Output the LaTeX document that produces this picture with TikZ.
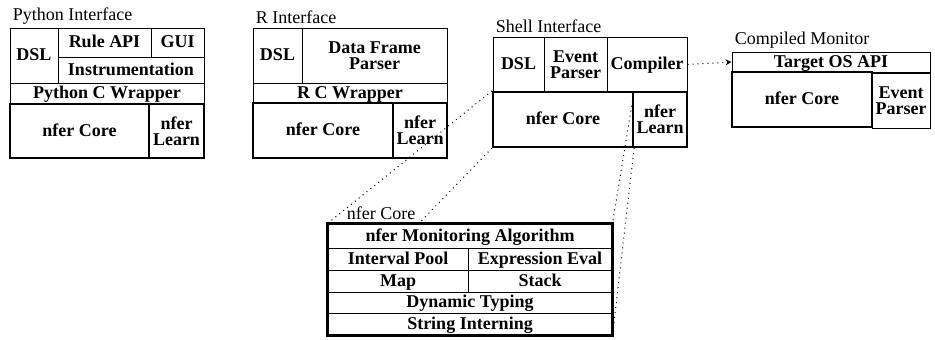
\documentclass[tikz,border=0pt]{standalone}
\usepackage{fontspec}
\setmainfont{Liberation Serif}
\usetikzlibrary{arrows.meta, positioning}
\tikzset{
  cell/.style={draw, line width=0.5pt, inner sep=0pt, align=center, text height=6.5pt, text depth=1.5pt, font=\fontsize{9}{8}\selectfont\bfseries},
  core/.style={cell, line width=1.1pt},
  twoline/.style={text height=, text depth=},
  dims/.style 2 args={minimum width=#1*0.5pt, minimum height=#2*0.5pt},
  caption/.style={inner sep=1.5pt, font=\fontsize{9}{10}\selectfont},
  zoomline/.style={dotted, line width=0.5pt},
}

\begin{document}
\begin{tikzpicture}[x=0.5pt, y=-0.5pt]
\useasboundingbox (0,0) rectangle (935,339);
% Python interface
\node[cell, dims={48}{55}] (pyDSL) at (34,55.5) {DSL};
\node[cell, dims={93}{29}] (pyRule) at (104.5,42.5) {Rule API};
\node[cell, dims={53}{29}] (pyGUI) at (177.5,42.5) {GUI};
\node[cell, dims={146}{26}] (pyInstr) at (131,70) {Instrumentation};
\node[cell, dims={194}{21}] (pyWrap) at (107,93.5) {Python C Wrapper};
\node[core, dims={139}{54}] (pyCore) at (79.5,131) {nfer Core};
\node[core, twoline, dims={55}{54}] (pyLearn) at (176.5,131) {nfer\\Learn};
\node[caption, above right=0pt of pyDSL.north west] (pyTitle) {Python Interface};
% R interface
\node[cell, dims={49}{55}] (rDSL) at (277.5,55.5) {DSL};
\node[cell, twoline, dims={145}{55}] (rParser) at (374.5,55.5) {Data Frame\\Parser};
\node[cell, dims={194}{20}] (rWrap) at (350,93) {R C Wrapper};
\node[core, dims={140}{55}] (rCore) at (323,130.5) {nfer Core};
\node[core, twoline, dims={54}{55}] (rLearn) at (420,130.5) {nfer\\Learn};
\node[caption, above right=0pt of rDSL.north west] (rTitle) {R Interface};
% Shell interface
\node[cell, dims={51}{55}] (shDSL) at (518.5,64.5) {DSL};
\node[cell, twoline, dims={63}{55}] (shParser) at (575.5,64.5) {Event\\Parser};
\node[cell, dims={80}{55}] (shComp) at (647,64.5) {Compiler};
\node[core, dims={140}{55}] (shCore) at (563,119.5) {nfer Core};
\node[core, twoline, dims={54}{55}] (shLearn) at (660,119.5) {nfer\\Learn};
\node[caption, above right=0pt of shDSL.north west] (shTitle) {Shell Interface};
% Compiled monitor
\node[cell, dims={198}{20}] (cmAPI) at (831,62) {Target OS API};
\node[core, dims={140}{55}] (cmCore) at (802,99.5) {nfer Core};
\node[cell, twoline, dims={58}{55}] (cmParser) at (901,100.5) {Event\\Parser};
\node[caption, above right=0pt of cmAPI.north west] (cmTitle) {Compiled Monitor};
% nfer core in detail
\node[cell, dims={284}{24}] (zAlg) at (470,236) {nfer Monitoring Algorithm};
\node[cell, dims={140}{22}] (zPool) at (398,259) {Interval Pool};
\node[cell, dims={144}{22}] (zEval) at (540,259) {Expression Eval};
\node[cell, dims={140}{22}] (zMap) at (398,281) {Map};
\node[cell, dims={144}{22}] (zStack) at (540,281) {Stack};
\node[cell, dims={284}{21}] (zTyping) at (470,302.5) {Dynamic Typing};
\node[cell, dims={284}{22}] (zIntern) at (470,324) {String Interning};
\draw[line width=1.1pt] (zAlg.north west) rectangle (zIntern.south east);
\node[caption, above right=0pt and 8pt of zAlg.north west] (zTitle) {nfer Core};
% connectors
\draw[zoomline] (shCore.north west) -- (zAlg.north west);
\draw[zoomline] (shCore.south west) -- (zTitle.south east);
\draw[zoomline] (shCore.north east) -- (zAlg.north east);
\draw[zoomline] (shCore.south east) -- (zIntern.south east);
\draw[zoomline, -{Stealth[length=3pt, width=3pt]}] (shComp.east) -- (cmAPI.west);
\end{tikzpicture}
\end{document}
